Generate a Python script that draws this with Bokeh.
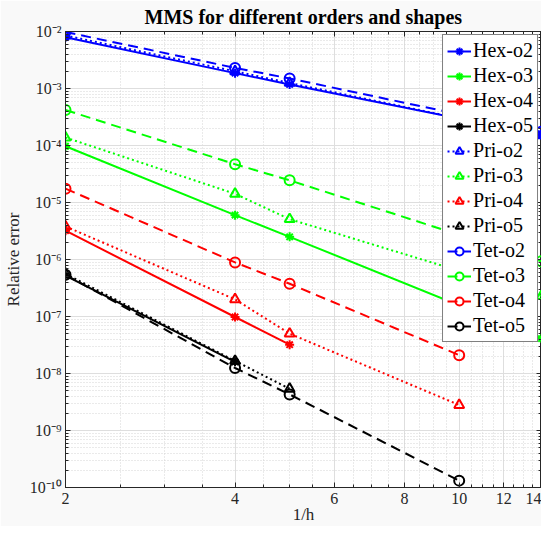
from bokeh.plotting import figure
from bokeh.models import (Range1d, FixedTicker, LogAxis, CustomJSTickFormatter,
                          PrintfTickFormatter, Legend, LegendItem)
from bokeh.embed import file_html
from bokeh.resources import INLINE

# ---------------- data ----------------
names = ["Hex-o2", "Hex-o3", "Hex-o4", "Hex-o5",
         "Pri-o2", "Pri-o3", "Pri-o4", "Pri-o5",
         "Tet-o2", "Tet-o3", "Tet-o4", "Tet-o5"]

hex_o2_x = [2, 4, 5, 14]
hex_o2_y = [7.9e-3, 1.86e-3, 1.18e-3, 1.53e-4]
hex_o3_x = [2, 4, 5, 14]
hex_o3_y = [9.7e-5, 6.0e-6, 2.5e-6, 4.1e-8]
hex_o4_x = [2, 4, 5]
hex_o4_y = [3.2e-6, 9.8e-8, 3.2e-8]
hex_o5_x = [2, 4]
hex_o5_y = [5.2e-7, 1.6e-8]

pri_o2_x = [2, 4, 5, 14]
pri_o2_y = [8.5e-3, 2.0e-3, 1.25e-3, 1.5e-4]
pri_o3_x = [2, 4, 5, 14]
pri_o3_y = [1.38e-4, 1.42e-5, 5.1e-6, 2.3e-7]
pri_o4_x = [2, 4, 5, 10]
pri_o4_y = [3.8e-6, 2.0e-7, 5.0e-8, 2.8e-9]
pri_o5_x = [2, 4, 5]
pri_o5_y = [5.6e-7, 1.66e-8, 5.4e-9]

tet_o2_x = [2, 4, 5, 14]
tet_o2_y = [9.8e-3, 2.3e-3, 1.5e-3, 1.74e-4]
tet_o3_x = [2, 4, 5, 14]
tet_o3_y = [4.2e-4, 4.7e-5, 2.45e-5, 9.3e-7]
tet_o4_x = [2, 4, 5, 10]
tet_o4_y = [1.75e-5, 8.9e-7, 3.75e-7, 2.1e-8]
tet_o5_x = [2, 4, 5, 10]
tet_o5_y = [5.4e-7, 1.25e-8, 4.3e-9, 1.32e-10]

x_major_ticks = [2, 4, 6, 8, 10, 12, 14]
x_minor_ticks = [2.5, 3, 3.5, 4.5, 5, 5.5, 6.5, 7, 7.5, 8.5, 9, 9.5,
                 10.5, 11, 11.5, 12.5, 13, 13.5]
y_exponents = list(range(-10, -1))

xs = [hex_o2_x, hex_o3_x, hex_o4_x, hex_o5_x,
      pri_o2_x, pri_o3_x, pri_o4_x, pri_o5_x,
      tet_o2_x, tet_o3_x, tet_o4_x, tet_o5_x]
ys = [hex_o2_y, hex_o3_y, hex_o4_y, hex_o5_y,
      pri_o2_y, pri_o3_y, pri_o4_y, pri_o5_y,
      tet_o2_y, tet_o3_y, tet_o4_y, tet_o5_y]

# ---------------- styles ----------------
order_colors = ["#0000ff", "#00ff00", "#ff0000", "#000000"]
shape_dash = {"Hex": "solid", "Pri": "2 3", "Tet": "10 6"}
shape_marker = {"Hex": "asterisk", "Pri": "triangle", "Tet": "circle"}
shape_msize = {"Hex": 9, "Pri": 10, "Tet": 10}

FONT = "Liberation Serif"
AX = "#262626"

y_major = [10.0 ** e for e in y_exponents]
y_minor = [k * 10.0 ** e for e in y_exponents[:-1] for k in range(2, 10)]

p = figure(width=541, height=526, x_axis_type="log", y_axis_type="log",
           x_range=Range1d(2, 14), y_range=Range1d(1e-10, 1e-2),
           output_backend="svg", toolbar_location=None,
           min_border_left=58, min_border_right=0, min_border_top=21,
           min_border_bottom=0)

p.background_fill_color = "white"
p.border_fill_color = "#f9f9f9"
p.outline_line_color = AX
p.outline_line_width = 1

p.title.text = "MMS for different orders and shapes"
p.title.align = "center"
p.title.text_font = FONT
p.title.text_font_style = "bold"
p.title.text_font_size = "20px"
p.title.text_color = "#000000"
p.title.offset = 0
p.title.standoff = 7

sup_js = """
const sup = {"-":"\u207b","0":"\u2070","1":"\u00b9","2":"\u00b2","3":"\u00b3",
             "4":"\u2074","5":"\u2075","6":"\u2076","7":"\u2077","8":"\u2078","9":"\u2079"};
const e = Math.round(Math.log10(tick));
return "10" + String(e).split("").map(c => sup[c]).join("");
"""

xt = FixedTicker(ticks=x_major_ticks, minor_ticks=x_minor_ticks)
yt = FixedTicker(ticks=y_major, minor_ticks=y_minor)

def style_axis(ax):
    ax.axis_line_color = AX
    ax.major_tick_line_color = AX
    ax.minor_tick_line_color = AX
    ax.major_tick_in = 5
    ax.major_tick_out = 0
    ax.minor_tick_in = 3
    ax.minor_tick_out = 0
    ax.major_label_text_font = FONT
    ax.major_label_text_font_size = "16px"
    ax.major_label_text_color = AX
    ax.axis_label_text_font = FONT
    ax.axis_label_text_font_size = "17px"
    ax.axis_label_text_font_style = "normal"
    ax.axis_label_text_color = AX

xa = p.xaxis[0]
xa.ticker = xt
xa.formatter = PrintfTickFormatter(format="%d")
xa.axis_label = "1/h"
style_axis(xa)
xa.major_label_standoff = 5
xa.axis_label_standoff = -2

ya = p.yaxis[0]
ya.ticker = yt
ya.formatter = CustomJSTickFormatter(code=sup_js)
ya.axis_label = "Relative error"
style_axis(ya)
ya.axis_label_standoff = 4
ya.major_label_standoff = 4

blank = CustomJSTickFormatter(code="return '';")
ra = LogAxis(ticker=yt, formatter=blank)
style_axis(ra)
ra.major_label_standoff = 0
ra.axis_label_standoff = 0
ra.major_label_text_font_size = "0px"
p.add_layout(ra, "right")
ta = LogAxis(ticker=xt, formatter=blank)
style_axis(ta)
ta.major_label_standoff = 0
ta.axis_label_standoff = 0
ta.major_label_text_font_size = "0px"
p.add_layout(ta, "above")

p.xgrid.ticker = xt
p.ygrid.ticker = yt
for g in (p.xgrid[0], p.ygrid[0]):
    g.grid_line_color = "#dedede"
    g.grid_line_width = 1
    g.minor_grid_line_color = "#d4d4d4"
    g.minor_grid_line_dash = "1 2"
    g.minor_grid_line_width = 1

items = []
for name, x, y in zip(names, xs, ys):
    shape, order = name.split("-")
    c = order_colors[int(order[1]) - 2]
    ln = p.line(x, y, line_color=c, line_width=2, line_dash=shape_dash[shape])
    sc = p.scatter(x, y, marker=shape_marker[shape], size=shape_msize[shape],
                   line_color=c, fill_color=None, line_width=2)
    items.append(LegendItem(label=name, renderers=[ln, sc]))

leg = Legend(items=items, location="top_right", margin=3,
             label_text_font=FONT, label_text_font_size="20px",
             label_text_color="#000000",
             glyph_width=24, glyph_height=20, label_height=20,
             label_standoff=2, spacing=2, padding=4,
             border_line_color="#000000", border_line_width=1,
             background_fill_color="white", background_fill_alpha=1.0)
p.add_layout(leg, "center")

open("out.html", "w").write(file_html(p, INLINE))
